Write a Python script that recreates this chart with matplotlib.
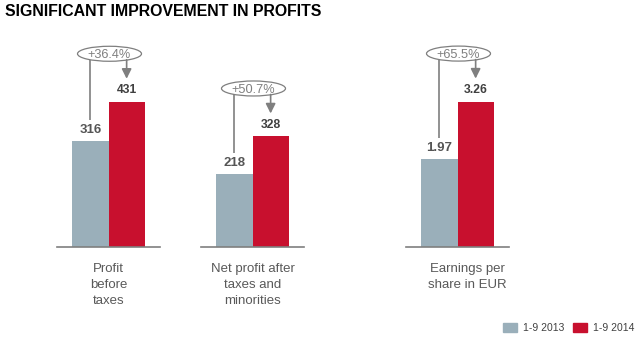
import matplotlib
matplotlib.use("Agg")
import matplotlib.pyplot as plt
from matplotlib.patches import Ellipse, Patch

plt.rcParams['font.family'] = ['Liberation Sans', 'DejaVu Sans']

# Data
categories = ["Profit\nbefore\ntaxes",
              "Net profit after\ntaxes and\nminorities",
              "Earnings per\nshare in EUR"]
values_2013 = [316, 218, 1.97]
values_2014 = [431, 328, 3.26]
value_labels_2013 = ["316", "218", "1.97"]
value_labels_2014 = ["431", "328", "3.26"]
growth_labels = ["+36.4%", "+50.7%", "+65.5%"]
series_names = ["1-9 2013", "1-9 2014"]
title = "SIGNIFICANT IMPROVEMENT IN PROFITS"

# Styling / layout
W, H = 640, 340
GRAY = "#9aafba"
RED = "#c8102e"
LINE = "#7f7f7f"
axes_left = [57, 201, 406]      # px
axes_width = 103                # px
base_y, top_y = 93, 310         # px from bottom
y_max = [644, 644, 4.865]       # per-panel value scale
label_dx = [0, 0, 10]

fig = plt.figure(figsize=(W / 100, H / 100), dpi=100)

overlay = fig.add_axes([0, 0, 1, 1], zorder=5)
overlay.set_xlim(0, W)
overlay.set_ylim(0, H)
overlay.axis('off')
overlay.patch.set_alpha(0)

for i in range(len(categories)):
    ax = fig.add_axes([axes_left[i] / W, base_y / H, axes_width / W, (top_y - base_y) / H])
    ax.set_xlim(-1.42, 1.42)
    ax.set_ylim(0, y_max[i])
    ax.bar([-0.5], [values_2013[i]], width=1.0, color=GRAY)
    ax.bar([0.5], [values_2014[i]], width=1.0, color=RED)
    for s in ['top', 'left', 'right']:
        ax.spines[s].set_visible(False)
    ax.spines['bottom'].set_color(LINE)
    ax.spines['bottom'].set_linewidth(1.2)
    ax.set_xticks([])
    ax.set_yticks([])
    ax.patch.set_alpha(0)

    ax.annotate(value_labels_2013[i], (-0.5, values_2013[i]), xytext=(0, 3.5),
                textcoords='offset points', ha='center', va='bottom',
                fontsize=9.5, fontweight='bold', color='#555555')
    ax.annotate(value_labels_2014[i], (0.5, values_2014[i]), xytext=(0, 4),
                textcoords='offset points', ha='center', va='bottom',
                fontsize=8.7, fontweight='bold', color='#404040')

    # growth callout: ellipse with connector line and arrow
    gx, gy = ax.transData.transform((-0.5, values_2013[i]))
    rx, ry = ax.transData.transform((0.5, values_2014[i]))
    cx = (gx + rx) / 2
    ey = ry + 48
    overlay.add_patch(Ellipse((cx + 1, ey), 64, 15, fill=False, ec=LINE, lw=0.9))
    overlay.text(cx + 1, ey - 4.5, growth_labels[i], ha='center', va='baseline',
                 fontsize=9.2, color=LINE)
    overlay.plot([gx, gx], [ey - 6, gy + 21], color=LINE, lw=1.2,
                 solid_capstyle='butt')
    overlay.annotate('', xy=(rx, ry + 23), xytext=(rx, ey - 6),
                     arrowprops=dict(arrowstyle='-|>,head_length=0.58,head_width=0.29',
                                     color=LINE, lw=1.2, shrinkA=0, shrinkB=0))

    overlay.text(cx + label_dx[i], H - 263, categories[i], ha='center', va='top',
                 multialignment='center', fontsize=9.5, color='#595959',
                 linespacing=1.42)

fig.text(5 / W, 1 - 12 / H, title, ha='left', va='center',
         fontsize=11.4, fontweight='bold', color='black')

handles = [Patch(color=GRAY), Patch(color=RED)]
leg = fig.legend(handles, series_names, loc='center right',
                 bbox_to_anchor=(634 / W, 12 / H), ncol=2, frameon=False,
                 fontsize=7.5, handlelength=1.35, handleheight=0.95,
                 handletextpad=0.5, columnspacing=0.9, borderpad=0,
                 borderaxespad=0)
for t in leg.get_texts():
    t.set_color('#404040')

fig.savefig("out.png", dpi=100)
